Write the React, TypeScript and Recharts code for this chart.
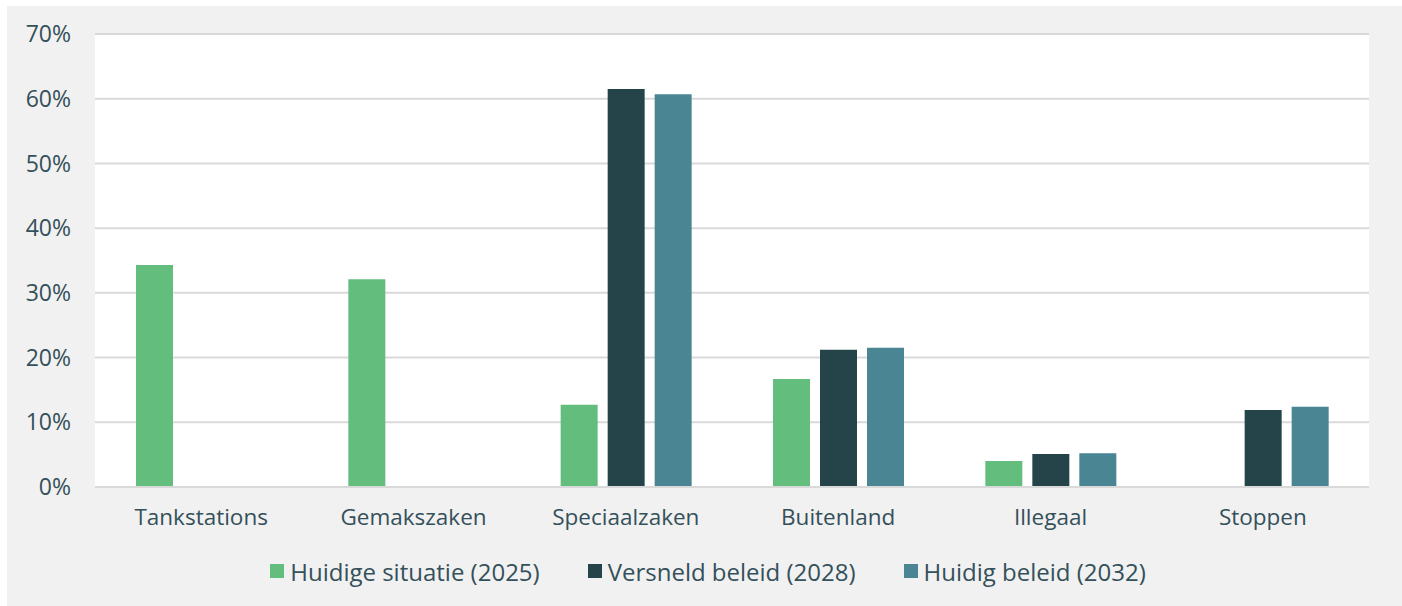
import { Bar, BarChart, CartesianGrid, Legend, XAxis, YAxis } from "recharts";

const categories = ["Tankstations", "Gemakszaken", "Speciaalzaken", "Buitenland", "Illegaal", "Stoppen"];
const huidigeSituatie = [34.3, 32.1, 12.7, 16.7, 4.0, null];
const versneldBeleid = [null, null, 61.5, 21.2, 5.1, 11.9];
const huidigBeleid = [null, null, 60.7, 21.5, 5.2, 12.4];
const yTicks = [0, 10, 20, 30, 40, 50, 60, 70];

const series = [
  { key: "huidig2025", name: "Huidige situatie (2025)", color: "#63be7e" },
  { key: "versneld2028", name: "Versneld beleid (2028)", color: "#254449" },
  { key: "huidig2032", name: "Huidig beleid (2032)", color: "#4a8593" },
];

const data = categories.map((c, i) => ({
  name: c,
  huidig2025: huidigeSituatie[i],
  versneld2028: versneldBeleid[i],
  huidig2032: huidigBeleid[i],
}));

const textColor = "#34505a";
const font = "'Open Sans', 'Noto Sans', sans-serif";

function LegendBox() {
  return (
    <div style={{ display: "flex", justifyContent: "center", gap: 48, height: 34, paddingLeft: 40, alignItems: "center", fontFamily: font, fontSize: 24, color: textColor }}>
      {series.map((s) => (
        <div key={s.key} style={{ display: "flex", alignItems: "center" }}>
          <span style={{ width: 14, height: 14, background: s.color, marginRight: 6, display: "inline-block" }} />
          <span>{s.name}</span>
        </div>
      ))}
    </div>
  );
}

export default function App() {
  return (
    <div style={{ position: "absolute", left: 7, top: 6, width: 1395, height: 600, background: "#f1f1f1" }}>
      <BarChart width={1395} height={600} data={data} margin={{ top: 28, right: 33, left: 0, bottom: 18 }} barSize={37} barGap={10}>
        <CartesianGrid vertical={false} stroke="#d9d9d9" strokeWidth={2} fill="#ffffff" />
        <XAxis
          dataKey="name"
          height={67}
          tickLine={false}
          tickSize={0}
          tickMargin={22}
          axisLine={{ stroke: "#d9d9d9", strokeWidth: 2 }}
          tick={{ fill: textColor, fontSize: 22.5, fontFamily: font }}
        />
        <YAxis
          width={88}
          domain={[0, 70]}
          ticks={yTicks}
          tickFormatter={(v) => `${v}%`}
          tickLine={false}
          axisLine={false}
          tickSize={0}
          tickMargin={24}
          tick={{ fill: textColor, fontSize: 23, fontFamily: font }}
        />
        <Legend verticalAlign="bottom" content={() => <LegendBox />} />
        {series.map((s) => (
          <Bar key={s.key} dataKey={s.key} name={s.name} fill={s.color} isAnimationActive={false} />
        ))}
      </BarChart>
    </div>
  );
}
